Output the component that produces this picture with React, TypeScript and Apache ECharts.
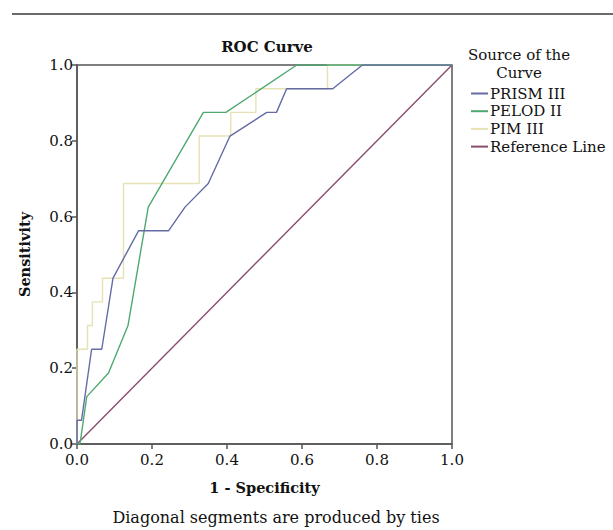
import React, { useEffect, useRef } from "react";
import * as echarts from "echarts";

const seriesNames = ["PRISM III", "PELOD II", "PIM III", "Reference Line"];
const seriesColors = ["#646ca6", "#4ea96f", "#e6e2b4", "#8a4d6e"];

const prismFpr = [0, 0, 0.012, 0.039, 0.066, 0.096, 0.164, 0.244, 0.288, 0.35, 0.408, 0.506, 0.532, 0.559, 0.682, 0.761, 1.0];
const prismTpr = [0, 0.0625, 0.0625, 0.25, 0.25, 0.4375, 0.5625, 0.5625, 0.625, 0.6875, 0.8125, 0.875, 0.875, 0.9375, 0.9375, 1.0, 1.0];

const pelodFpr = [0, 0.008, 0.026, 0.084, 0.136, 0.19, 0.337, 0.397, 0.586, 1.0];
const pelodTpr = [0, 0, 0.125, 0.1875, 0.3125, 0.625, 0.875, 0.875, 1.0, 1.0];

const pimFpr = [0, 0, 0.028, 0.028, 0.041, 0.041, 0.068, 0.068, 0.124, 0.124, 0.326, 0.326, 0.41, 0.41, 0.477, 0.477, 0.668, 0.668, 1.0];
const pimTpr = [0, 0.25, 0.25, 0.3125, 0.3125, 0.375, 0.375, 0.4375, 0.4375, 0.6875, 0.6875, 0.8125, 0.8125, 0.875, 0.875, 0.9375, 0.9375, 1.0, 1.0];

const refFpr = [0, 1];
const refTpr = [0, 1];

const FONT = "DejaVu Serif";

function pairs(xs: number[], ys: number[]) {
  return xs.map((x, i) => [x, ys[i]]);
}

export default function App() {
  const ref = useRef<HTMLDivElement>(null);
  useEffect(() => {
    document.body.style.margin = "0";
    if (!ref.current) return;
    const chart = echarts.init(ref.current, undefined, { renderer: "svg" });
    const data = [
      pairs(prismFpr, prismTpr),
      pairs(pelodFpr, pelodTpr),
      pairs(pimFpr, pimTpr),
      pairs(refFpr, refTpr),
    ];
    chart.setOption({
      animation: false,
      backgroundColor: "#ffffff",
      title: [
        {
          text: "ROC Curve",
          left: 262,
          top: 34,
          textAlign: "center",
          textStyle: { fontFamily: FONT, fontSize: 15, fontWeight: "bold", color: "#111" },
        },
        {
          text: "Source of the\nCurve",
          left: 514,
          top: 41,
          textAlign: "center",
          textStyle: { fontFamily: FONT, fontSize: 15, fontWeight: "normal", color: "#111", lineHeight: 18 },
        },
      ],
      legend: {
        orient: "vertical",
        left: 466,
        top: 80,
        itemWidth: 17,
        itemHeight: 2,
        itemGap: 0.7,
        icon: "rect",
        data: seriesNames,
        textStyle: { fontFamily: FONT, fontSize: 15, color: "#111", lineHeight: 17, padding: [0, 0, 0, -3] },
      },
      grid: {
        left: 77,
        top: 65,
        width: 375,
        height: 379,
        show: true,
        borderColor: "#555",
        borderWidth: 1.5,
        backgroundColor: "transparent",
      },
      xAxis: {
        type: "value",
        min: 0,
        max: 1,
        interval: 0.2,
        name: "1 - Specificity",
        nameLocation: "middle",
        nameGap: 36,
        nameTextStyle: { fontFamily: FONT, fontSize: 14.5, fontWeight: "bold", color: "#111" },
        axisLine: { show: true, lineStyle: { color: "#555", width: 1.5 } },
        axisTick: { show: true, length: 5, lineStyle: { color: "#555", width: 1.5 } },
        axisLabel: {
          fontFamily: FONT,
          fontSize: 15,
          color: "#111",
          margin: 8,
          formatter: (v: number) => v.toFixed(1),
        },
        splitLine: { show: false },
      },
      yAxis: {
        type: "value",
        min: 0,
        max: 1,
        interval: 0.2,
        name: "Sensitivity",
        nameLocation: "middle",
        nameGap: 45,
        nameTextStyle: { fontFamily: FONT, fontSize: 14.5, fontWeight: "bold", color: "#111" },
        axisLine: { show: true, lineStyle: { color: "#555", width: 1.5 } },
        axisTick: { show: true, length: 5, lineStyle: { color: "#555", width: 1.5 } },
        axisLabel: {
          fontFamily: FONT,
          fontSize: 15,
          color: "#111",
          margin: 4,
          formatter: (v: number) => v.toFixed(1),
        },
        splitLine: { show: false },
      },
      series: seriesNames.map((name, i) => ({
        name,
        type: "line",
        data: data[i],
        symbol: "none",
        color: seriesColors[i],
        lineStyle: { color: seriesColors[i], width: 1.4 },
        z: i === 3 ? 1 : 4 - i,
      })),
      graphic: [
        {
          type: "line",
          shape: { x1: 12, y1: 14, x2: 613, y2: 14 },
          style: { stroke: "#6a6a6a", lineWidth: 2 },
        },
        {
          type: "text",
          x: 276,
          y: 517,
          style: {
            text: "Diagonal segments are produced by ties",
            fontFamily: FONT,
            fontSize: 16,
            fill: "#111",
            textAlign: "center",
            textVerticalAlign: "middle",
          },
        },
      ],
    });
    return () => chart.dispose();
  }, []);
  return <div ref={ref} style={{ width: 613, height: 530 }} />;
}
